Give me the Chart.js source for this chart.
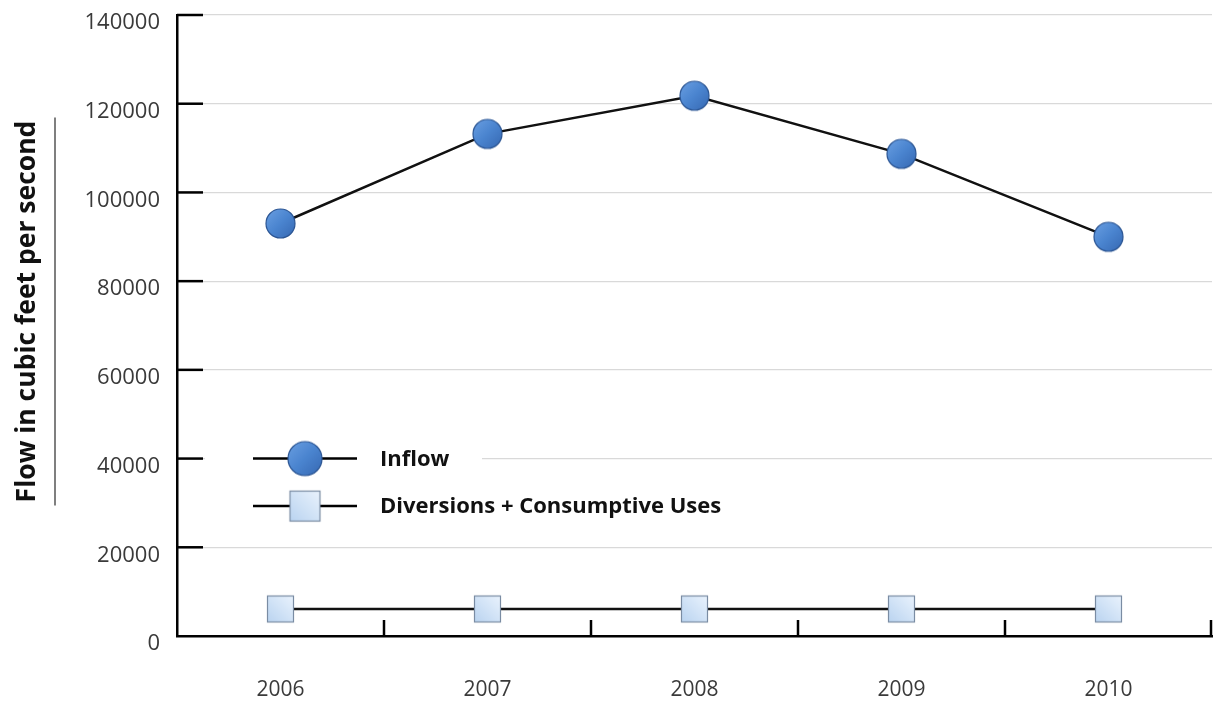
<!DOCTYPE html>
<html>
<head>
<meta charset="utf-8">
<script src="https://cdn.jsdelivr.net/npm/chart.js@4"></script>
<style>
  html, body { margin: 0; padding: 0; background: #ffffff; }
  #wrap { width: 1217px; height: 702px; position: relative; }
</style>
</head>
<body>
<div id="wrap"><canvas id="c" width="1217" height="702"></canvas></div>
<script>
// ---- data ----
const years = ['2006', '2007', '2008', '2009', '2010'];
const inflow = [93000, 113200, 121800, 108700, 90000];
const diversions = [6100, 6100, 6100, 6100, 6100];
const seriesNames = ['Inflow', 'Diversions + Consumptive Uses'];
const yTitle = 'Flow in cubic feet per second';
const yMin = 0, yMax = 140000, yStep = 20000;

// ---- marker images ----
function circleImg(d) {
  const c = document.createElement('canvas');
  c.width = d + 4; c.height = d + 4;
  const g = c.getContext('2d');
  const cx = c.width / 2, cy = c.height / 2, r = d / 2;
  const grad = g.createLinearGradient(cx - r, cy - r, cx + r, cy + r);
  grad.addColorStop(0, '#6a9fe2');
  grad.addColorStop(0.5, '#4a84cf');
  grad.addColorStop(1, '#3668b2');
  g.beginPath(); g.arc(cx, cy, r, 0, Math.PI * 2);
  g.fillStyle = grad; g.fill();
  g.lineWidth = 1.2; g.strokeStyle = '#2b5593'; g.stroke();
  return c;
}
function squareImg(s) {
  const c = document.createElement('canvas');
  c.width = s + 4; c.height = s + 4;
  const g = c.getContext('2d');
  const x0 = 2, y0 = 2;
  const grad = g.createLinearGradient(x0, y0 + s, x0 + s, y0);
  grad.addColorStop(0, '#b9d3f0');
  grad.addColorStop(1, '#eaf3fd');
  g.fillStyle = grad; g.fillRect(x0, y0, s, s);
  g.lineWidth = 1.2; g.strokeStyle = '#7a8ca3'; g.strokeRect(x0 + 0.5, y0 + 0.5, s - 1, s - 1);
  return c;
}
const circleSmall = circleImg(29), circleBig = circleImg(34);
const squareSmall = squareImg(27), squareBig = squareImg(31);
const legendImgs = [circleBig, squareBig];

// ---- plugins ----
const decorPlugin = {
  id: 'decor',
  beforeDatasetsDraw(chart) {
    const {ctx, chartArea: ca, scales: {x, y}} = chart;
    ctx.save();
    ctx.strokeStyle = '#000'; ctx.lineWidth = 2.5; ctx.lineCap = 'butt';
    // inner y ticks
    y.ticks.forEach(t => {
      if (t.value === yMin) return;
      const py = y.getPixelForValue(t.value);
      ctx.beginPath(); ctx.moveTo(ca.left, py); ctx.lineTo(ca.left + 26, py); ctx.stroke();
    });
    // x ticks at category boundaries
    const n = years.length;
    for (let i = 1; i <= n; i++) {
      const px = i < n ? (x.getPixelForValue(i - 1) + x.getPixelForValue(i)) / 2 : ca.right - 1;
      ctx.beginPath(); ctx.moveTo(px, ca.bottom); ctx.lineTo(px, ca.bottom - 16); ctx.stroke();
    }
    // legend background (hide gridline under legend)
    const ly = y.getPixelForValue(40000);
    ctx.fillStyle = '#ffffff';
    ctx.fillRect(ca.left + 28, ly - 4, 482 - (ca.left + 28), 8);
    // y-axis title and its decorative rule
    const cy = (ca.top + ca.bottom) / 2 - 14;
    ctx.save();
    ctx.translate(y.left + 27, cy);
    ctx.rotate(-Math.PI / 2);
    ctx.fillStyle = '#111';
    ctx.font = 'bold 26.5px "Open Sans", sans-serif';
    ctx.textAlign = 'center'; ctx.textBaseline = 'middle';
    ctx.fillText(yTitle, 0, 0);
    ctx.restore();
    ctx.strokeStyle = '#555'; ctx.lineWidth = 1.5;
    ctx.beginPath(); ctx.moveTo(y.left + 55, cy - 194); ctx.lineTo(y.left + 55, cy + 194); ctx.stroke();
    ctx.restore();
  },
  afterDatasetsDraw(chart) {
    const {ctx, chartArea: ca, scales: {y}} = chart;
    const lx = ca.left + 76;
    const ly0 = y.getPixelForValue(40000);
    ctx.save();
    chart.data.datasets.forEach((ds, i) => {
      const ly = ly0 + i * 47.5;
      ctx.strokeStyle = '#000'; ctx.lineWidth = 2.5;
      ctx.beginPath(); ctx.moveTo(lx, ly); ctx.lineTo(lx + 104, ly); ctx.stroke();
      const img = legendImgs[i];
      ctx.drawImage(img, lx + 52 - img.width / 2, ly - img.height / 2);
      ctx.fillStyle = '#111';
      ctx.font = 'bold 22px "Open Sans", sans-serif';
      ctx.textBaseline = 'middle'; ctx.textAlign = 'left';
      ctx.fillText(ds.label, lx + 127, ly + 1);
    });
    ctx.restore();
  }
};

new Chart(document.getElementById('c'), {
  type: 'line',
  data: {
    labels: years,
    datasets: [
      {
        label: seriesNames[0], data: inflow,
        borderColor: '#111', borderWidth: 2.5,
        pointStyle: circleSmall, pointRadius: 15, pointHoverRadius: 15,
        tension: 0
      },
      {
        label: seriesNames[1], data: diversions,
        borderColor: '#111', borderWidth: 2.5,
        pointStyle: squareSmall, pointRadius: 15, pointHoverRadius: 15,
        tension: 0
      }
    ]
  },
  options: {
    responsive: false,
    animation: false,
    devicePixelRatio: 1,
    layout: { autoPadding: false, padding: { left: 0, top: 15, right: 5, bottom: 0 } },
    plugins: {
      legend: { display: false },
      tooltip: { enabled: false }
    },
    scales: {
      x: {
        offset: true,
        grid: { display: true, color: 'rgba(0,0,0,0)', drawTicks: false, offset: true },
        border: { display: true, color: '#000', width: 2.5 },
        ticks: { color: '#3a3a3a', font: { family: '"Open Sans", sans-serif', size: 21 }, padding: 41 },
        afterFit(s) { s.height = 66; s.paddingLeft = 0; s.paddingRight = 0; }
      },
      y: {
        min: yMin, max: yMax,
        grid: { color: '#d9d9d9', lineWidth: 1.2, drawTicks: false },
        border: { display: true, color: '#000', width: 2.5 },
        ticks: {
          stepSize: yStep, color: '#3a3a3a', padding: 17, labelOffset: 8,
          font: { family: '"Open Sans", sans-serif', size: 22 },
          callback: v => String(v)
        },
        title: { display: false, text: yTitle },
        afterFit(s) { s.width = 177; s.paddingTop = 0; s.paddingBottom = 0; }
      }
    }
  },
  plugins: [decorPlugin]
});
</script>
</body>
</html>
